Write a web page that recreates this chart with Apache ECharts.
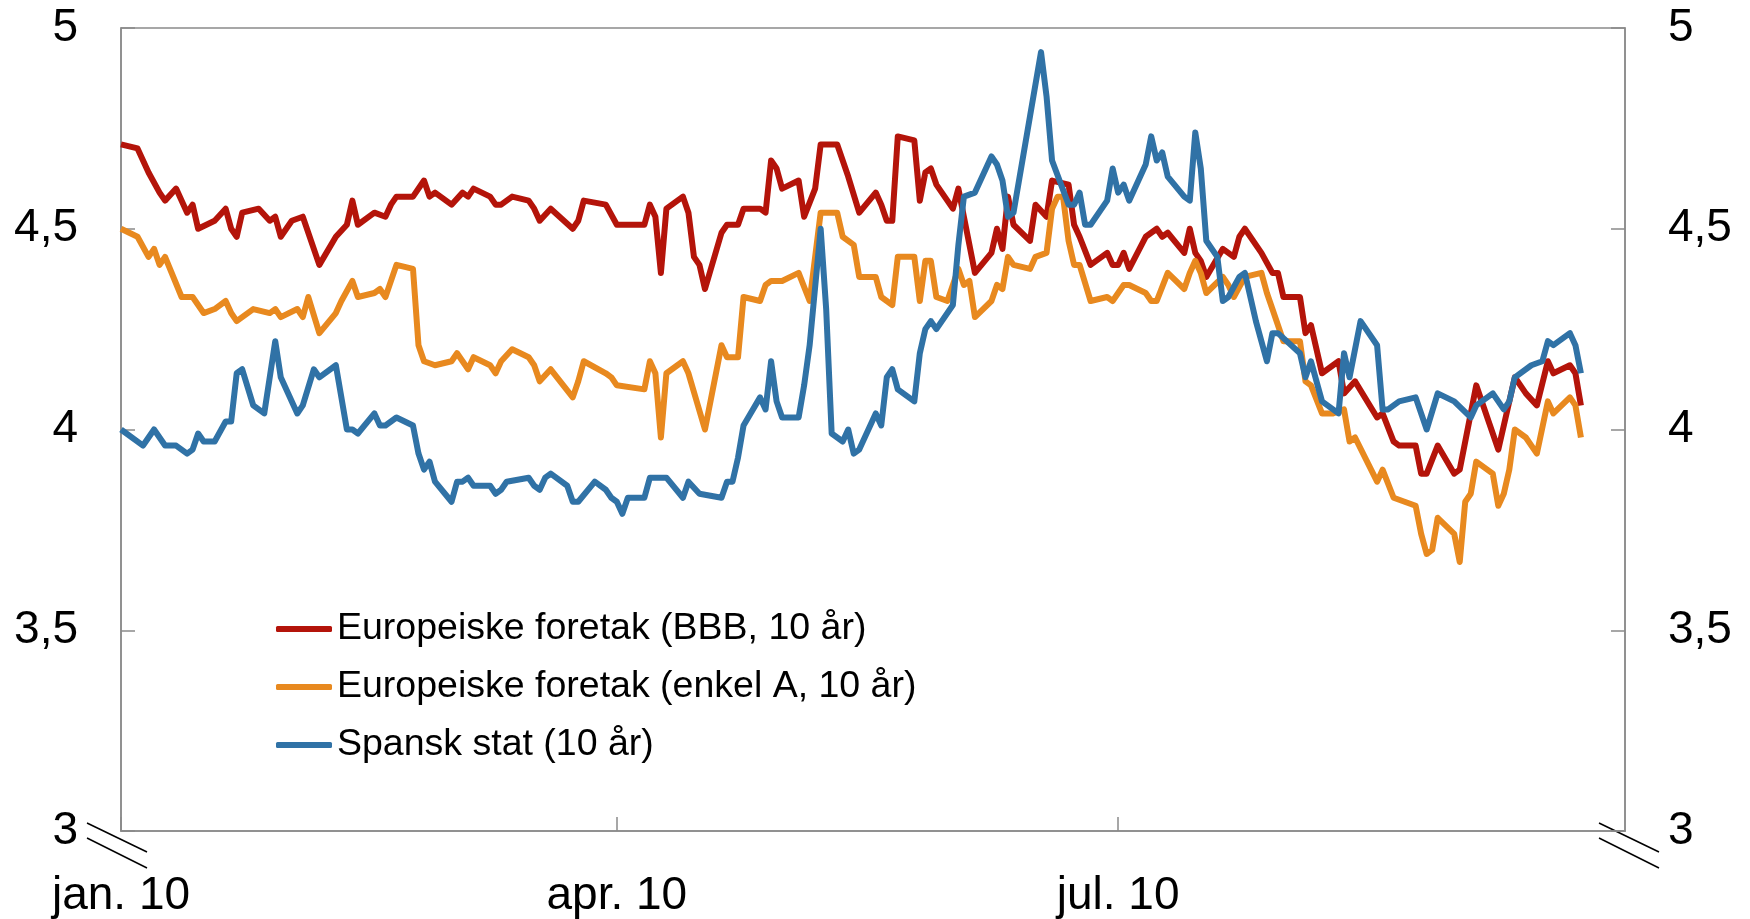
<!DOCTYPE html>
<html>
<head>
<meta charset="utf-8">
<script src="https://cdn.jsdelivr.net/npm/echarts@6/dist/echarts.min.js"></script>
<style>
  html, body { margin: 0; padding: 0; background: #fff; }
  #chart { width: 1750px; height: 919px; }
</style>
</head>
<body>
<div id="chart"></div>
<script>
// day offsets from 1 Jan 2010
const xTickDays = [0, 90, 181];
const xTickLabels = ['jan. 10', 'apr. 10', 'jul. 10'];
const yTicks = [3, 3.5, 4, 4.5, 5];

const seriesNames = [
  'Europeiske foretak (BBB, 10 år)',
  'Europeiske foretak (enkel A, 10 år)',
  'Spansk stat (10 år)'
];

const bbbDays = [0, 3, 5, 7, 8, 10, 12, 13, 14, 17, 19, 20, 21, 22, 25, 27, 28, 29, 31, 33, 36, 39, 41, 42, 43, 46, 48, 49, 50, 53, 55, 56, 57, 60, 62, 63, 64, 67, 68, 69, 71, 74, 75, 76, 78, 82, 83, 84, 88, 90, 95, 96, 97, 98, 99, 102, 103, 104, 105, 106, 109, 110, 112, 113, 116, 117, 118, 119, 120, 123, 124, 126, 127, 130, 132, 134, 137, 138, 139, 140, 141, 144, 145, 146, 147, 148, 151, 152, 153, 155, 158, 159, 160, 161, 162, 165, 166, 168, 169, 172, 173, 174, 176, 179, 180, 181, 182, 183, 186, 188, 189, 190, 193, 194, 195, 196, 197, 200, 202, 203, 204, 207, 209, 210, 211, 214, 215, 216, 218, 221, 222, 224, 228, 229, 231, 232, 235, 236, 237, 239, 242, 243, 246, 248, 250, 253, 255, 257, 259, 260, 263, 264, 265];
const bbbValues = [4.71, 4.70, 4.64, 4.59, 4.57, 4.60, 4.54, 4.56, 4.50, 4.52, 4.55, 4.50, 4.48, 4.54, 4.55, 4.52, 4.53, 4.48, 4.52, 4.53, 4.41, 4.48, 4.51, 4.57, 4.51, 4.54, 4.53, 4.56, 4.58, 4.58, 4.62, 4.58, 4.59, 4.56, 4.59, 4.58, 4.60, 4.58, 4.56, 4.56, 4.58, 4.57, 4.55, 4.52, 4.55, 4.50, 4.52, 4.57, 4.56, 4.51, 4.51, 4.56, 4.53, 4.39, 4.55, 4.58, 4.54, 4.43, 4.41, 4.35, 4.49, 4.51, 4.51, 4.55, 4.55, 4.54, 4.67, 4.65, 4.60, 4.62, 4.53, 4.60, 4.71, 4.71, 4.63, 4.54, 4.59, 4.56, 4.52, 4.52, 4.73, 4.72, 4.57, 4.64, 4.65, 4.61, 4.55, 4.60, 4.53, 4.39, 4.44, 4.50, 4.45, 4.58, 4.51, 4.47, 4.56, 4.53, 4.62, 4.61, 4.51, 4.48, 4.41, 4.44, 4.41, 4.41, 4.44, 4.40, 4.48, 4.50, 4.48, 4.49, 4.44, 4.50, 4.44, 4.42, 4.38, 4.45, 4.43, 4.48, 4.50, 4.44, 4.39, 4.39, 4.33, 4.33, 4.24, 4.26, 4.14, 4.17, 4.09, 4.12, 4.03, 4.04, 3.97, 3.96, 3.96, 3.89, 3.89, 3.96, 3.89, 3.90, 4.11, 4.03, 3.95, 4.13, 4.09, 4.06, 4.17, 4.14, 4.16, 4.14, 4.06];

const aDays = [0, 3, 5, 6, 7, 8, 11, 13, 15, 17, 19, 20, 21, 24, 27, 28, 29, 32, 33, 34, 36, 39, 40, 42, 43, 46, 47, 48, 50, 53, 54, 55, 57, 60, 61, 62, 63, 64, 67, 68, 69, 71, 74, 75, 76, 78, 82, 83, 84, 88, 89, 90, 95, 96, 97, 98, 99, 102, 103, 106, 109, 110, 112, 113, 116, 117, 118, 120, 123, 125, 127, 130, 131, 133, 134, 137, 138, 140, 141, 144, 145, 146, 147, 148, 150, 152, 153, 154, 155, 158, 159, 160, 161, 162, 165, 166, 168, 169, 170, 171, 172, 173, 174, 176, 179, 180, 182, 183, 186, 187, 188, 190, 193, 194, 195, 196, 197, 200, 201, 202, 204, 207, 208, 209, 211, 214, 215, 216, 218, 220, 222, 223, 224, 228, 229, 231, 235, 236, 237, 238, 239, 242, 243, 244, 245, 246, 249, 250, 251, 252, 253, 255, 257, 259, 260, 263, 264, 265];
const aValues = [4.50, 4.48, 4.43, 4.45, 4.41, 4.43, 4.33, 4.33, 4.29, 4.30, 4.32, 4.29, 4.27, 4.30, 4.29, 4.30, 4.28, 4.30, 4.28, 4.33, 4.24, 4.29, 4.32, 4.37, 4.33, 4.34, 4.35, 4.33, 4.41, 4.40, 4.21, 4.17, 4.16, 4.17, 4.19, 4.17, 4.15, 4.18, 4.16, 4.14, 4.17, 4.20, 4.18, 4.16, 4.12, 4.15, 4.08, 4.12, 4.17, 4.14, 4.13, 4.11, 4.10, 4.17, 4.14, 3.98, 4.14, 4.17, 4.14, 4.00, 4.21, 4.18, 4.18, 4.33, 4.32, 4.36, 4.37, 4.37, 4.39, 4.32, 4.54, 4.54, 4.48, 4.46, 4.38, 4.38, 4.33, 4.31, 4.43, 4.43, 4.32, 4.42, 4.42, 4.33, 4.32, 4.40, 4.36, 4.37, 4.28, 4.32, 4.36, 4.35, 4.43, 4.41, 4.40, 4.43, 4.44, 4.55, 4.58, 4.58, 4.47, 4.41, 4.41, 4.32, 4.33, 4.32, 4.36, 4.36, 4.34, 4.32, 4.32, 4.39, 4.35, 4.39, 4.42, 4.39, 4.34, 4.38, 4.36, 4.33, 4.38, 4.39, 4.34, 4.30, 4.22, 4.22, 4.12, 4.11, 4.04, 4.04, 4.05, 3.97, 3.98, 3.87, 3.90, 3.83, 3.81, 3.74, 3.69, 3.70, 3.78, 3.74, 3.67, 3.82, 3.84, 3.92, 3.89, 3.81, 3.84, 3.90, 4.00, 3.98, 3.94, 4.07, 4.04, 4.08, 4.06, 3.98];

const esDays = [0, 4, 6, 8, 10, 12, 13, 14, 15, 17, 19, 20, 21, 22, 24, 26, 28, 29, 32, 33, 35, 36, 39, 41, 42, 43, 46, 47, 48, 50, 53, 54, 55, 56, 57, 60, 61, 62, 63, 64, 67, 68, 69, 70, 74, 75, 76, 77, 78, 81, 82, 83, 86, 88, 89, 90, 91, 92, 95, 96, 99, 102, 103, 105, 109, 110, 111, 112, 113, 116, 117, 118, 119, 120, 123, 124, 125, 127, 128, 129, 131, 132, 133, 134, 137, 138, 139, 140, 141, 144, 145, 146, 147, 148, 151, 152, 153, 155, 158, 159, 160, 161, 162, 165, 167, 168, 169, 172, 173, 174, 175, 176, 179, 180, 181, 182, 183, 186, 187, 188, 189, 190, 193, 194, 195, 196, 197, 199, 200, 201, 203, 204, 206, 208, 209, 210, 214, 215, 216, 218, 221, 222, 223, 225, 228, 229, 230, 232, 235, 237, 239, 242, 245, 246, 249, 251, 252, 253, 256, 258, 259, 260, 263, 264, 265];
const esValues = [4.00, 3.96, 4.00, 3.96, 3.96, 3.94, 3.95, 3.99, 3.97, 3.97, 4.02, 4.02, 4.14, 4.15, 4.06, 4.04, 4.22, 4.13, 4.04, 4.06, 4.15, 4.13, 4.16, 4.00, 4.00, 3.99, 4.04, 4.01, 4.01, 4.03, 4.01, 3.94, 3.90, 3.92, 3.87, 3.82, 3.87, 3.87, 3.88, 3.86, 3.86, 3.84, 3.85, 3.87, 3.88, 3.86, 3.85, 3.88, 3.89, 3.86, 3.82, 3.82, 3.87, 3.85, 3.83, 3.82, 3.79, 3.83, 3.83, 3.88, 3.88, 3.83, 3.87, 3.84, 3.83, 3.87, 3.87, 3.93, 4.01, 4.08, 4.05, 4.17, 4.07, 4.03, 4.03, 4.11, 4.21, 4.50, 4.30, 3.99, 3.97, 4.00, 3.94, 3.95, 4.04, 4.01, 4.13, 4.15, 4.10, 4.07, 4.19, 4.25, 4.27, 4.25, 4.31, 4.46, 4.58, 4.59, 4.68, 4.66, 4.62, 4.53, 4.54, 4.78, 4.94, 4.83, 4.67, 4.56, 4.56, 4.59, 4.51, 4.51, 4.57, 4.65, 4.59, 4.61, 4.57, 4.66, 4.73, 4.67, 4.69, 4.63, 4.58, 4.57, 4.74, 4.65, 4.47, 4.43, 4.32, 4.33, 4.38, 4.39, 4.27, 4.17, 4.24, 4.24, 4.19, 4.13, 4.17, 4.07, 4.04, 4.19, 4.13, 4.27, 4.21, 4.05, 4.05, 4.07, 4.08, 4.00, 4.09, 4.07, 4.03, 4.06, 4.09, 4.05, 4.07, 4.13, 4.16, 4.17, 4.22, 4.21, 4.24, 4.21, 4.14];

const colors = ['#B4140A', '#E8891F', '#3072A6'];

const zip = (xs, ys) => xs.map((x, i) => [x, ys[i]]);

const chart = echarts.init(document.getElementById('chart'));
const font = '"Liberation Sans", Arial, sans-serif';
const axisGray = '#8a8a8a';

const yAxisBase = {
    type: 'value',
    min: 3,
    max: 5,
    interval: 0.5,
    splitLine: { show: false },
    axisLine: { show: true, lineStyle: { color: axisGray, width: 1.5 } },
    axisTick: { show: true, inside: true, length: 14, lineStyle: { color: axisGray, width: 1.5 } },
    axisLabel: {
        margin: 43,
        color: '#000',
        fontFamily: font,
        fontSize: 46,
        formatter: v => String(yTicks.find(t => Math.abs(t - v) < 1e-9)).replace('.', ',')
    }
};

chart.setOption({
    animation: false,
    color: colors,
    grid: {
        left: 121,
        right: 125,
        top: 28,
        bottom: 88,
        show: true,
        borderColor: axisGray,
        borderWidth: 1.5
    },
    legend: {
        orient: 'vertical',
        left: 271,
        top: 604,
        itemWidth: 56,
        itemHeight: 6,
        itemGap: 18,
        icon: 'roundRect',
        data: seriesNames,
        textStyle: { fontFamily: font, fontSize: 37.5, lineHeight: 40, color: '#000' }
    },
    xAxis: {
        type: 'value',
        min: 0,
        max: 273,
        splitLine: { show: false },
        axisLine: { show: true, lineStyle: { color: axisGray, width: 1.5 } },
        axisTick: {
            show: true, inside: true, length: 14,
            customValues: xTickDays,
            lineStyle: { color: axisGray, width: 1.5 }
        },
        axisLabel: {
            customValues: xTickDays,
            margin: 42,
            color: '#000',
            fontFamily: font,
            fontSize: 46,
            formatter: v => xTickLabels[xTickDays.indexOf(v)]
        }
    },
    yAxis: [
        Object.assign({ position: 'left' }, yAxisBase),
        Object.assign({ position: 'right' }, yAxisBase)
    ],
    graphic: [
        { type: 'line', shape: { x1: 87, y1: 823, x2: 147, y2: 852 }, style: { stroke: '#000', lineWidth: 1.5 } },
        { type: 'line', shape: { x1: 87, y1: 838, x2: 147, y2: 868 }, style: { stroke: '#000', lineWidth: 1.5 } },
        { type: 'line', shape: { x1: 1599, y1: 823, x2: 1659, y2: 852 }, style: { stroke: '#000', lineWidth: 1.5 } },
        { type: 'line', shape: { x1: 1599, y1: 838, x2: 1659, y2: 868 }, style: { stroke: '#000', lineWidth: 1.5 } }
    ],
    series: [
        { name: seriesNames[0], type: 'line', data: zip(bbbDays, bbbValues) },
        { name: seriesNames[1], type: 'line', data: zip(aDays, aValues) },
        { name: seriesNames[2], type: 'line', data: zip(esDays, esValues) }
    ].map(s => Object.assign(s, {
        showSymbol: false,
        symbol: 'none',
        lineStyle: { width: 6, join: 'round' }
    }))
});
</script>
</body>
</html>
